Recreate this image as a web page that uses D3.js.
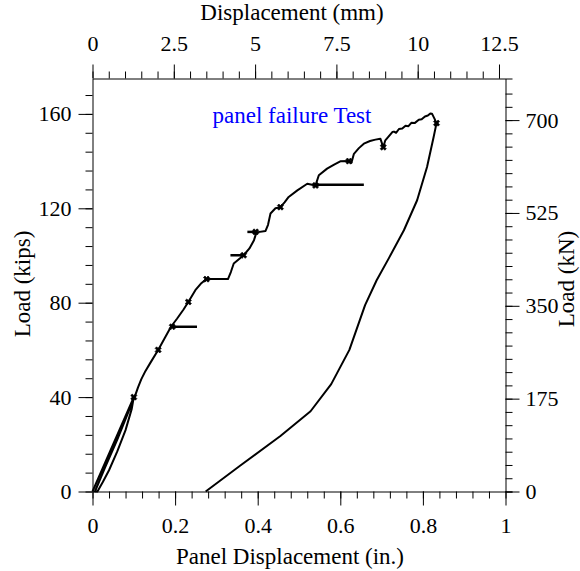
<!DOCTYPE html>
<html>
<head>
<meta charset="utf-8">
<script src="https://cdn.jsdelivr.net/npm/d3@7"></script>
<style>
  html, body { margin: 0; padding: 0; background: #fff; }
  svg { display: block; }
  text { font-family: "Liberation Serif", "Times New Roman", serif; fill: #000; }
</style>
</head>
<body>
<svg id="chart" width="580" height="571"></svg>
<script>
// ---------- data ----------
const titleText = "panel failure Test";
const xLabel = "Panel Displacement (in.)";
const x2Label = "Displacement (mm)";
const yLabel = "Load (kips)";
const y2Label = "Load (kN)";

const xTicks = [0, 0.2, 0.4, 0.6, 0.8, 1];
const x2Ticks = [0, 2.5, 5, 7.5, 10, 12.5];
const yTicks = [0, 40, 80, 120, 160];
const y2Ticks = [0, 175, 350, 525, 700];

// main load path: displacement (in.) and load (kips)
const pathDisp = [
  0, 0.03, 0.065, 0.1,
  0.095, 0.08, 0.06, 0.04, 0.025, 0.012,
  0.006, 0.03, 0.06, 0.09, 0.102,
  0.11, 0.118, 0.128, 0.14, 0.159, 0.175, 0.19, 0.205, 0.22, 0.232, 0.249, 0.262, 0.276,
  0.328, 0.335, 0.342, 0.366, 0.38, 0.391, 0.397,
  0.419, 0.425, 0.431, 0.443, 0.455, 0.465, 0.475, 0.496, 0.52, 0.54,
  0.548, 0.568, 0.585, 0.6, 0.621, 0.627, 0.633, 0.645, 0.657, 0.672, 0.685, 0.697, 0.704, 0.709,
  0.726, 0.73, 0.735, 0.742, 0.75, 0.758, 0.765, 0.772, 0.78, 0.79, 0.797, 0.805, 0.812, 0.818, 0.822, 0.828, 0.833,
  0.826, 0.81, 0.786, 0.754, 0.718, 0.688, 0.66, 0.622, 0.578, 0.528, 0.455, 0.358, 0.274
];
const pathLoad = [
  0, 12, 26, 40,
  35, 26, 17, 9, 4, 0,
  0, 10, 22, 35, 40,
  44, 47.5, 51, 54.5, 60, 65, 69.8, 73.3, 77, 80.3, 85.3, 88, 90,
  90, 93, 96.6, 100.1, 103, 106.5, 109.8,
  110.4, 113, 117.8, 120, 120.5, 122.5, 124.8, 127.6, 130.4, 129.7,
  134, 136.8, 138.5, 139.9, 140, 139.3, 143.1, 145.5, 147.4, 148.5, 149.1, 149.5, 145.9, 148.8,
  152.3, 152.5, 152, 153.6, 153.8, 155, 154.8, 156.2, 156.1, 157.5, 157.7, 158.9, 159.3, 160.2, 160.1, 158, 156.1,
  150.2, 137.5, 123.4, 110.7, 99, 89.5, 79, 60, 45.5, 34, 23.5, 11, 0
];

// short horizontal hold segments: start disp, end disp, load
const stubStart = [0.193, 0.334, 0.375, 0.54];
const stubEnd   = [0.253, 0.366, 0.397, 0.657];
const stubLoad  = [69.8, 100.1, 110, 130];

// step markers: disp, load
const markDisp = [0.1, 0.159, 0.193, 0.232, 0.276, 0.366, 0.395, 0.455, 0.54, 0.621, 0.704, 0.833];
const markLoad = [40, 60, 69.8, 80.3, 90, 100.1, 110, 120.5, 129.7, 140, 145.9, 156.1];

// ---------- layout ----------
const svg = d3.select("#chart");
const L = 92.5, R = 505.5, T = 78.5, B = 491.5;
const KIP_TO_KN = 4.448;
const yMax = 175;

const x = d3.scaleLinear().domain([0, 1]).range([L, R]);
const x2 = d3.scaleLinear().domain([0, 12.7]).range([L, R]);
const y = d3.scaleLinear().domain([0, yMax]).range([B, T]);
const y2 = d3.scaleLinear().domain([0, yMax * KIP_TO_KN]).range([B, T]);

const fs = 22;
const MAJ = 14, MIN = 7;

function range(a, b, s) { const out = []; for (let v = a; v <= b + 1e-9; v += s) out.push(+v.toFixed(4)); return out; }

function styleAxis(g) {
  g.selectAll("path, line").attr("stroke", "#000").attr("stroke-width", 1);
  g.selectAll("text").style("font-size", fs + "px").attr("fill", "#000");
}

// bottom
svg.append("g").attr("transform", `translate(0,${B})`)
  .call(d3.axisBottom(x).tickValues(range(0, 1, 0.04)).tickSize(MIN).tickSizeOuter(0).tickFormat(""))
  .call(styleAxis);
const gb = svg.append("g").attr("transform", `translate(0,${B})`)
  .call(d3.axisBottom(x).tickValues(xTicks).tickSize(MAJ).tickSizeOuter(0).tickFormat(d => String(d)))
  .call(styleAxis);
gb.select(".domain").remove();
gb.selectAll("text").attr("y", 41).attr("dy", null);

// top
svg.append("g").attr("transform", `translate(0,${T})`)
  .call(d3.axisTop(x2).tickValues(range(0, 12.5, 0.5)).tickSize(MIN).tickSizeOuter(0).tickFormat(""))
  .call(styleAxis);
const gt = svg.append("g").attr("transform", `translate(0,${T})`)
  .call(d3.axisTop(x2).tickValues(x2Ticks).tickSize(MAJ).tickSizeOuter(0).tickFormat(d => String(d)))
  .call(styleAxis);
gt.select(".domain").remove();
gt.selectAll("text").attr("y", -28).attr("dy", null);

// left
svg.append("g").attr("transform", `translate(${L},0)`)
  .call(d3.axisLeft(y).tickValues(range(0, 168, 8)).tickSize(MIN).tickSizeOuter(0).tickFormat(""))
  .call(styleAxis);
const gl = svg.append("g").attr("transform", `translate(${L},0)`)
  .call(d3.axisLeft(y).tickValues(yTicks).tickSize(MAJ).tickSizeOuter(0))
  .call(styleAxis);
gl.select(".domain").remove();
gl.selectAll("text").attr("x", -21);

// right
svg.append("g").attr("transform", `translate(${R},0)`)
  .call(d3.axisRight(y2).tickValues(range(0, 750, 25)).tickSize(MIN).tickSizeOuter(MIN).tickFormat(""))
  .call(styleAxis);
const gr = svg.append("g").attr("transform", `translate(${R},0)`)
  .call(d3.axisRight(y2).tickValues(y2Ticks).tickSize(MAJ).tickSizeOuter(0))
  .call(styleAxis);
gr.select(".domain").remove();
gr.selectAll("text").attr("x", 20);

// axis titles
svg.append("text").attr("x", 290).attr("y", 564).attr("text-anchor", "middle")
  .style("font-size", "23px").text(xLabel);
svg.append("text").attr("x", 292).attr("y", 20).attr("text-anchor", "middle")
  .style("font-size", "23px").text(x2Label);
svg.append("text").attr("transform", `translate(30,284) rotate(-90)`).attr("text-anchor", "middle")
  .style("font-size", "23px").text(yLabel);
svg.append("text").attr("transform", `translate(574,279) rotate(-90)`).attr("text-anchor", "middle")
  .style("font-size", "23px").text(y2Label);

// title
svg.append("text").attr("x", 292).attr("y", 123).attr("text-anchor", "middle")
  .style("font-size", "23px").style("fill", "#0000ff").text(titleText);

// ---------- marks ----------
const pts = pathDisp.map((d, i) => [d, pathLoad[i]]);
const line = d3.line().x(d => x(d[0])).y(d => y(d[1]));
svg.append("path").datum(pts).attr("d", line)
  .attr("fill", "none").attr("stroke", "#000").attr("stroke-width", 2).attr("stroke-linejoin", "round");

svg.append("g").selectAll("line").data(stubStart).join("line")
  .attr("x1", (d) => x(d)).attr("x2", (d, i) => x(stubEnd[i]))
  .attr("y1", (d, i) => y(stubLoad[i])).attr("y2", (d, i) => y(stubLoad[i]))
  .attr("stroke", "#000").attr("stroke-width", 2.5);

const cross = d3.symbol().type(d3.symbolCross).size(24);
svg.append("g").selectAll("path").data(markDisp).join("path")
  .attr("transform", (d, i) => `translate(${x(d)},${y(markLoad[i])}) rotate(45)`)
  .attr("d", cross).attr("fill", "#000").attr("stroke", "#000").attr("stroke-width", 0.6);
</script>
</body>
</html>
